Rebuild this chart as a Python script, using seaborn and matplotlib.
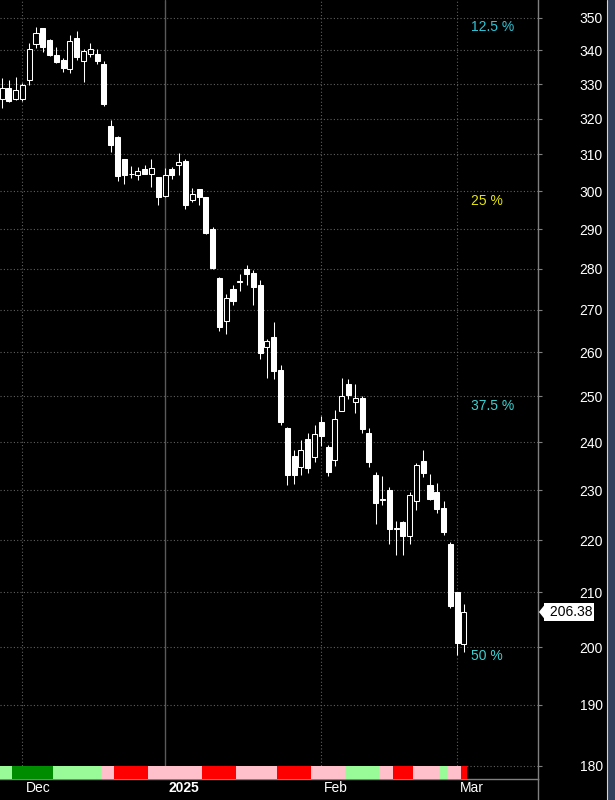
import numpy as np
import pandas as pd
import matplotlib
matplotlib.use("Agg")
import matplotlib.pyplot as plt
import matplotlib.transforms as mtransforms
from matplotlib.lines import Line2D
from matplotlib.patches import Rectangle
from matplotlib.ticker import NullLocator
import seaborn as sns

# daily candles
opens = [325.7, 328.9, 325.7, 325.7, 331.2, 341.9, 346.9, 343.1, 338.5, 337.1,
         334.4, 343.8, 336.8, 338.8, 338.8, 335.9, 318.0, 314.9, 308.6, 304.5,
         304.3, 305.9, 304.6, 303.8, 298.7, 305.9, 307.0, 308.1, 297.6, 300.5,
         298.4, 290.0, 277.8, 267.4, 275.1, 276.7, 280.0, 279.0, 276.1, 261.3,
         263.6, 256.0, 243.1, 237.1, 234.8, 240.7, 236.9, 244.4, 239.0, 236.3,
         246.7, 252.7, 248.7, 249.6, 242.0, 233.1, 227.9, 230.0, 222.1, 223.6,
         220.8, 227.8, 236.0, 231.0, 229.6, 226.4, 219.2, 210.0, 200.5]
highs = [331.8, 331.2, 332.1, 330.3, 342.2, 347.2, 347.0, 343.4, 340.9, 337.6,
         344.7, 346.0, 340.3, 342.2, 340.3, 336.8, 319.7, 315.0, 308.7, 306.8,
         306.5, 307.0, 308.6, 303.9, 306.2, 306.5, 310.5, 308.6, 300.8, 300.6,
         298.5, 290.5, 278.0, 273.9, 275.9, 278.6, 281.0, 279.8, 277.3, 263.1,
         267.1, 257.1, 243.3, 238.3, 240.4, 242.0, 243.6, 245.6, 239.4, 246.9,
         254.2, 253.8, 252.7, 250.0, 243.1, 233.8, 232.9, 230.6, 223.8, 223.8,
         229.6, 235.6, 238.3, 233.3, 231.5, 227.8, 219.6, 210.0, 207.8]
lows = [322.9, 324.9, 325.4, 325.1, 329.7, 340.6, 339.4, 338.2, 336.2, 333.5,
        333.2, 337.1, 330.6, 337.9, 335.9, 323.7, 310.6, 302.7, 301.9, 303.5,
        303.0, 304.5, 301.1, 296.3, 298.4, 303.2, 304.3, 295.3, 297.1, 296.3,
        288.8, 280.0, 265.0, 264.3, 271.2, 274.6, 275.9, 271.2, 258.4, 254.2,
        253.8, 243.6, 231.0, 231.3, 233.1, 233.5, 235.8, 239.2, 232.9, 235.0,
        246.7, 249.3, 246.4, 242.0, 234.8, 223.2, 227.0, 219.2, 217.1, 217.1,
        219.2, 226.0, 232.7, 228.0, 225.4, 221.0, 207.1, 198.6, 199.1]
closes = [328.9, 325.1, 328.3, 329.7, 340.3, 345.3, 340.9, 338.5, 336.5, 334.7,
          342.8, 337.9, 339.7, 340.3, 336.8, 324.3, 312.6, 304.1, 304.3, 304.7,
          305.4, 304.6, 306.2, 298.4, 304.3, 304.3, 307.8, 296.3, 299.2, 298.4,
          289.0, 280.3, 266.0, 272.9, 272.2, 276.9, 278.8, 275.6, 259.8, 262.6,
          255.8, 244.4, 233.1, 233.1, 238.3, 234.6, 241.8, 241.3, 233.8, 245.1,
          250.0, 250.4, 249.6, 242.9, 235.8, 227.4, 228.1, 222.2, 222.3, 220.8,
          229.0, 235.2, 233.5, 228.2, 226.2, 221.6, 207.5, 200.7, 206.38]

# trend strip under the candles, one code per day
trend = list("LLGGGGGGLLLLLLLPPRRRRRPPPPPPPPRRRRRPPPPPPRRRRRPPPPPLLLLLPPRRRPPPPLPPR")
trend_colors = {"L": "#98fb98", "G": "#008c00", "P": "#ffc0cb", "R": "#ff0000"}

month_pos = [3, 24, 47, 67]
month_labels = ["Dec", "2025", "Feb", "Mar"]
price_ticks = list(range(180, 351, 10))

pct_labels = ["12.5 %", "25 %", "37.5 %", "50 %"]
pct_levels = [347.2, 297.4, 247.9, 198.4]
pct_colors = ["#2ec6d8", "#e6e600", "#3cd2d2", "#3cd2d2"]

df = pd.DataFrame({"open": opens, "high": highs, "low": lows, "close": closes})
df["x"] = np.arange(len(df))
df["up"] = df["close"] >= df["open"]
df["bottom"] = df[["open", "close"]].min(axis=1)
df["height"] = (df["close"] - df["open"]).abs().clip(lower=0.2)

sns.set_style("dark", {"axes.facecolor": "black", "figure.facecolor": "black",
                       "axes.edgecolor": "#808080", "text.color": "white",
                       "xtick.color": "#808080", "ytick.color": "#808080"})
plt.rcParams["font.family"] = ["Liberation Sans", "DejaVu Sans"]

FS = 10
W, H = 615, 800
fig = plt.figure(figsize=(W / 100, H / 100), dpi=100)
ax = fig.add_axes([0, 21 / H, 538 / W, 779 / H])
ax.set_facecolor("black")

ax.set_yscale("log")
ax.set_ylim(177.9, 355.6)
ax.set_xlim(-0.3, 78.9)

# grid
ax.set_yticks(price_ticks, [str(t) for t in price_ticks])
ax.yaxis.set_minor_locator(NullLocator())
ax.yaxis.grid(True, linestyle=(0, (1, 2)), color="#606060", linewidth=0.8)
ax.xaxis.grid(False)
for p, lab in zip(month_pos, month_labels):
    if lab == "2025":
        ax.axvline(p, color="#5a5a5a", linewidth=1.0, zorder=1)
    else:
        ax.axvline(p, color="#606060", linestyle=(0, (1, 2)), linewidth=0.8, zorder=1)

# candles
ax.vlines(df["x"], df["low"], df["high"], color="white", linewidth=0.75, zorder=2)
ax.bar(df["x"], df["height"], bottom=df["bottom"], width=0.74,
       color=np.where(df["up"], "black", "white"), edgecolor="white",
       linewidth=0.75, zorder=3)

# percentage levels
for lab, lev, col in zip(pct_labels, pct_levels, pct_colors):
    ax.text(69.1, lev, lab, color=col, fontsize=FS, ha="left", va="center")

# axes styling
ax.yaxis.tick_right()
ax.tick_params(axis="y", which="major", length=3, color="#808080",
               labelcolor="white", labelsize=FS, pad=27)
ax.set_xticks(month_pos, month_labels)
ax.tick_params(axis="x", length=3.6, color="#808080", labelcolor="white",
               labelsize=FS, pad=-2)
shift = mtransforms.ScaledTranslation(3 / 100, 0, fig.dpi_scale_trans)
for t in ax.get_xticklabels():
    t.set_horizontalalignment("left")
    t.set_transform(t.get_transform() + shift)
    if t.get_text() == "2025":
        t.set_fontweight("bold")
for s in ["left", "top"]:
    ax.spines[s].set_visible(False)
for s in ["right", "bottom"]:
    ax.spines[s].set_color("#808080")
    ax.spines[s].set_linewidth(1.0)

# trend strip
ax2 = fig.add_axes([0, 21 / H, 538 / W, 13 / H])
ax2.bar(df["x"], 1, width=1.0, color=[trend_colors[c] for c in trend], linewidth=0)
ax2.set_xlim(ax.get_xlim())
ax2.set_ylim(0, 1)
ax2.axis("off")

# last price tag
trans = mtransforms.blended_transform_factory(ax.transAxes, ax.transData)
last = closes[-1]
ax.plot([1.0], [last], marker=[(-0.8, 0), (0, 1), (0, -1)], markersize=11,
        color="white", linewidth=0, clip_on=False,
        transform=trans + mtransforms.ScaledTranslation(7 / 100, 0, fig.dpi_scale_trans))
ax.text(1.0, last, f" {last:.2f}", color="black", fontsize=FS, ha="left", va="center",
        clip_on=False,
        transform=trans + mtransforms.ScaledTranslation(8 / 100, 0, fig.dpi_scale_trans),
        bbox=dict(boxstyle="square,pad=0.12", facecolor="white", edgecolor="none"))

# right axis line below the plot and the window border
fig.add_artist(Line2D([538 / W, 538 / W], [0, 21 / H], transform=fig.transFigure,
                      color="#808080", linewidth=1.0))
fig.add_artist(Rectangle((607 / W, 0), 8 / W, 1, transform=fig.transFigure,
                         facecolor="#34415c", edgecolor="none"))
fig.add_artist(Line2D([607 / W, 607 / W], [0, 1], transform=fig.transFigure,
                      color="#e0d6a8", linewidth=0.8))

fig.savefig("out.png", dpi=100, facecolor="black")
